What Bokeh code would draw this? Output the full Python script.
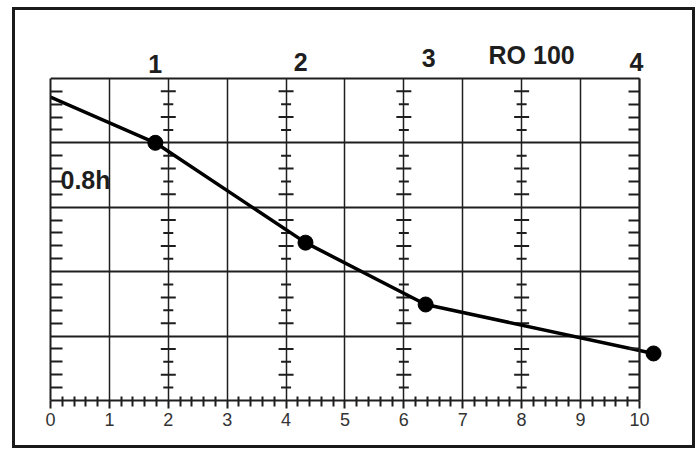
from bokeh.plotting import figure
from bokeh.models import Range1d, LinearAxis, FixedTicker, Label
from bokeh.core.properties import value
from bokeh.embed import file_html
from bokeh.resources import INLINE

# ---- data ----
curve_x = [0.0, 1.78, 4.33, 6.37, 10.24]
curve_y = [4.71, 4.00, 2.45, 1.49, 0.73]
point_x = curve_x[1:]
point_y = curve_y[1:]
point_labels = ["1", "2", "3", "4"]
label_x = [1.78, 4.25, 6.42, 9.95]
label_y = [5.22, 5.26, 5.31, 5.25]
x_ticks = list(range(0, 11))
y_grid = [1, 2, 3, 4, 5]
ruler_x = [2, 4, 6, 8]
note_text = "0.8h"
series_title = "RO 100"

FONT = "Liberation Sans"
INK = "#1e1e1e"

p = figure(width=677, height=435, output_backend="svg", toolbar_location=None,
           x_range=Range1d(0, 10.46), y_range=Range1d(0, 5.65),
           min_border_left=35, min_border_right=26, min_border_top=26, min_border_bottom=45)
p.margin = (10, 0, 0, 15)
p.styles = {"box-shadow": "0 0 0 3px #1a1a1a"}
p.outline_line_color = None
p.background_fill_color = "white"
p.border_fill_color = "white"

# minor tick positions (every 0.2)
x_minor = [round(i * 0.2, 1) for i in range(0, 51) if i % 5]
y_minor = [round(i * 0.2, 1) for i in range(0, 26) if i % 5]

# bottom axis
xt = FixedTicker(ticks=x_ticks, minor_ticks=x_minor)
p.xaxis.ticker = xt
p.xgrid.ticker = xt
p.xaxis.bounds = (0, 10)
p.xaxis.axis_line_width = 2
p.xaxis.axis_line_color = INK
p.xaxis.major_tick_in = 0
p.xaxis.major_tick_out = 8
p.xaxis.major_tick_line_width = 2
p.xaxis.major_tick_line_color = INK
p.xaxis.minor_tick_in = 4
p.xaxis.minor_tick_out = 6
p.xaxis.minor_tick_line_width = 2
p.xaxis.minor_tick_line_color = INK
p.xaxis.major_label_standoff = 4
p.xaxis.major_label_text_font = FONT
p.xaxis.major_label_text_font_size = "18px"
p.xaxis.major_label_text_color = "#333333"

# left axis (ruler at x = 0)
p.yaxis.ticker = FixedTicker(ticks=[], minor_ticks=y_minor)
p.yaxis.bounds = (0, 5)
p.yaxis.axis_line_width = 2
p.yaxis.axis_line_color = INK
p.yaxis.minor_tick_in = 12
p.yaxis.minor_tick_out = 0
p.yaxis.minor_tick_line_width = 2
p.yaxis.minor_tick_line_color = INK
p.yaxis.major_tick_in = 0
p.yaxis.major_tick_out = 0

# right ruler at x = 10
ra = LinearAxis(fixed_location=10, bounds=(0, 5),
                ticker=FixedTicker(ticks=[], minor_ticks=y_minor),
                minor_tick_in=11, minor_tick_out=0, minor_tick_line_width=2,
                minor_tick_line_color=INK, major_tick_in=0, major_tick_out=0,
                axis_line_width=2, axis_line_color=INK)
p.add_layout(ra, "right")

# grids (bounded to the chart box 0..10 x 0..5)
p.xgrid.grid_line_color = INK
p.xgrid.grid_line_width = 1.5
p.xgrid.cross_bounds = (0, 5)
p.ygrid.ticker = FixedTicker(ticks=y_grid)
p.ygrid.grid_line_color = INK
p.ygrid.grid_line_width = 2
p.ygrid.cross_bounds = (0, 10)

# inner rulers
long_y = [v for v in y_minor if round((v * 10) % 4) == 0]
short_y = [v for v in y_minor if v not in long_y]
p.scatter(x=[rx for rx in ruler_x for _ in long_y], y=[v for _ in ruler_x for v in long_y],
          marker="dash", size=15, line_width=2, line_color=INK)
p.scatter(x=[rx for rx in ruler_x for _ in short_y], y=[v for _ in ruler_x for v in short_y],
          marker="dash", size=10, line_width=2, line_color=INK)

# data curve
p.line(curve_x, curve_y, line_width=3.5, line_color="black")
p.scatter(point_x, point_y, size=15, marker="circle", fill_color="black", line_color="black")

# point numbers and titles
p.text(x=label_x, y=label_y, text=point_labels, text_font=value(FONT),
       text_font_style="bold", text_font_size="25px", text_align="center",
       text_baseline="middle", text_color=INK)
p.add_layout(Label(x=0.17, y=3.42, text=note_text, text_font=FONT, text_font_style="bold",
                   text_font_size="25px", text_baseline="middle", text_color=INK))
p.add_layout(Label(x=8.17, y=5.37, text=series_title, text_font=FONT, text_font_style="bold",
                   text_font_size="25px", text_baseline="middle", text_align="center",
                   text_color=INK))

open("out.html", "w").write(file_html(p, INLINE))
